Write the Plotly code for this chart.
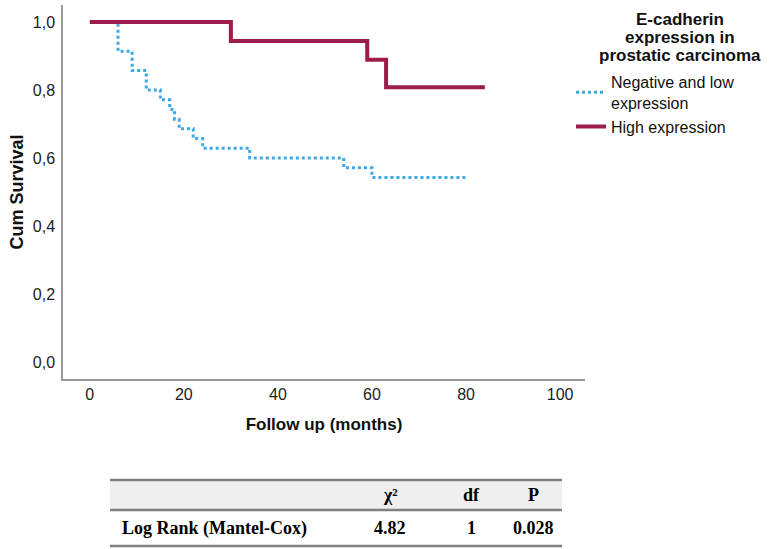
import plotly.graph_objects as go

# ---- data ----
neg_times = [0, 6, 9, 12, 15, 17, 18, 19, 22, 24, 34, 54, 60, 80]
neg_surv = [1.0, 0.914, 0.857, 0.800, 0.771, 0.743, 0.714, 0.686, 0.657, 0.629, 0.600, 0.571, 0.543, 0.543]

high_times = [0, 30, 59, 63, 84]
high_surv = [1.0, 0.944, 0.889, 0.808, 0.808]

x_ticks = [0, 20, 40, 60, 80, 100]
y_ticks = [0.0, 0.2, 0.4, 0.6, 0.8, 1.0]

legend_title_lines = ["E-cadherin", "expression in", "prostatic carcinoma"]

table_header = ["", "χ²", "df", "P"]
table_row = ["Log Rank (Mantel-Cox)", "4.82", "1", "0.028"]

W, H = 771, 549
L, R, T, B = 63, 585, 5, 379

def px(xp):
    return (xp - L) / (R - L)

def py(yp):
    return (B - yp) / (B - T)

fig = go.Figure()
fig.add_trace(go.Scatter(
    x=neg_times, y=neg_surv, mode="lines", line_shape="hv",
    line=dict(color="#3DA8E6", width=3, dash="dot"),
    name="Negative and low<br>expression"))
fig.add_trace(go.Scatter(
    x=high_times, y=high_surv, mode="lines", line_shape="hv",
    line=dict(color="#9C1C4C", width=4),
    name="High expression"))

axis_font = dict(family="Liberation Sans, Arial", size=16, color="#222")
title_font = dict(family="Liberation Sans, Arial", size=17, color="#111")
fig.update_layout(
    width=W, height=H,
    margin=dict(l=L, r=W - R, t=T, b=H - B, pad=0, autoexpand=False),
    plot_bgcolor="white", paper_bgcolor="white",
    separators=",.",
    showlegend=True,
    legend=dict(x=px(571), y=py(65), xanchor="left", yanchor="top",
                font=dict(family="Liberation Sans, Arial", size=16, color="#111"),
                itemwidth=30, tracegroupgap=0, bgcolor="rgba(0,0,0,0)"),
    xaxis=dict(range=[-5.7, 105.3], tickvals=x_ticks, showgrid=False, zeroline=False,
               showline=True, linecolor="#999", linewidth=1.5, ticks="", automargin=False,
               tickfont=axis_font,
               title=dict(text="<b>Follow up (months)</b>", font=title_font, standoff=16)),
    yaxis=dict(range=[-0.05, 1.05], tickvals=y_ticks, tickformat=".1f", showgrid=False,
               zeroline=False, showline=True, linecolor="#999", linewidth=1.5, ticks="",
               automargin=False, tickfont=axis_font, ticklabelstandoff=3,
               title=dict(text="<b>Cum Survival</b>", font=dict(title_font, size=18),
                          standoff=4)),
)

# legend title, one annotation per line for tight leading
for i, line in enumerate(legend_title_lines):
    fig.add_annotation(
        text="<b>%s</b>" % line,
        xref="paper", yref="paper", x=px(680), y=py(19 + 18.5 * i),
        xanchor="center", yanchor="middle", showarrow=False, borderpad=0,
        font=dict(family="Liberation Sans, Arial", size=17, color="#111"))

# ---- table ----
tx0, tx1 = 110, 562
fig.add_shape(type="rect", xref="paper", yref="paper",
              x0=px(tx0), x1=px(tx1), y0=py(510), y1=py(480),
              fillcolor="#EFEFEF", line=dict(width=0), layer="below")
for yl in [480, 510, 546]:
    fig.add_shape(type="line", xref="paper", yref="paper",
                  x0=px(tx0), x1=px(tx1), y0=py(yl), y1=py(yl),
                  line=dict(color="#7F7F7F", width=2.5))

serif = dict(family="Liberation Serif, Times New Roman", size=18, color="#000")
col_x = [120, 390, 471, 533]
for i, txt in enumerate(table_header):
    if txt:
        fig.add_annotation(text="<b>%s</b>" % txt, xref="paper", yref="paper",
                           x=px(col_x[i]), y=py(495), xanchor="center", yanchor="middle",
                           showarrow=False, font=serif)
for i, txt in enumerate(table_row):
    fig.add_annotation(text="<b>%s</b>" % txt, xref="paper", yref="paper",
                       x=px(col_x[i]), y=py(528),
                       xanchor="left" if i == 0 else "center", yanchor="middle",
                       showarrow=False, font=serif)

fig.write_html("out.html", config={"displayModeBar": False},
               post_script="document.body.style.margin='0';document.body.style.overflow='hidden';")
